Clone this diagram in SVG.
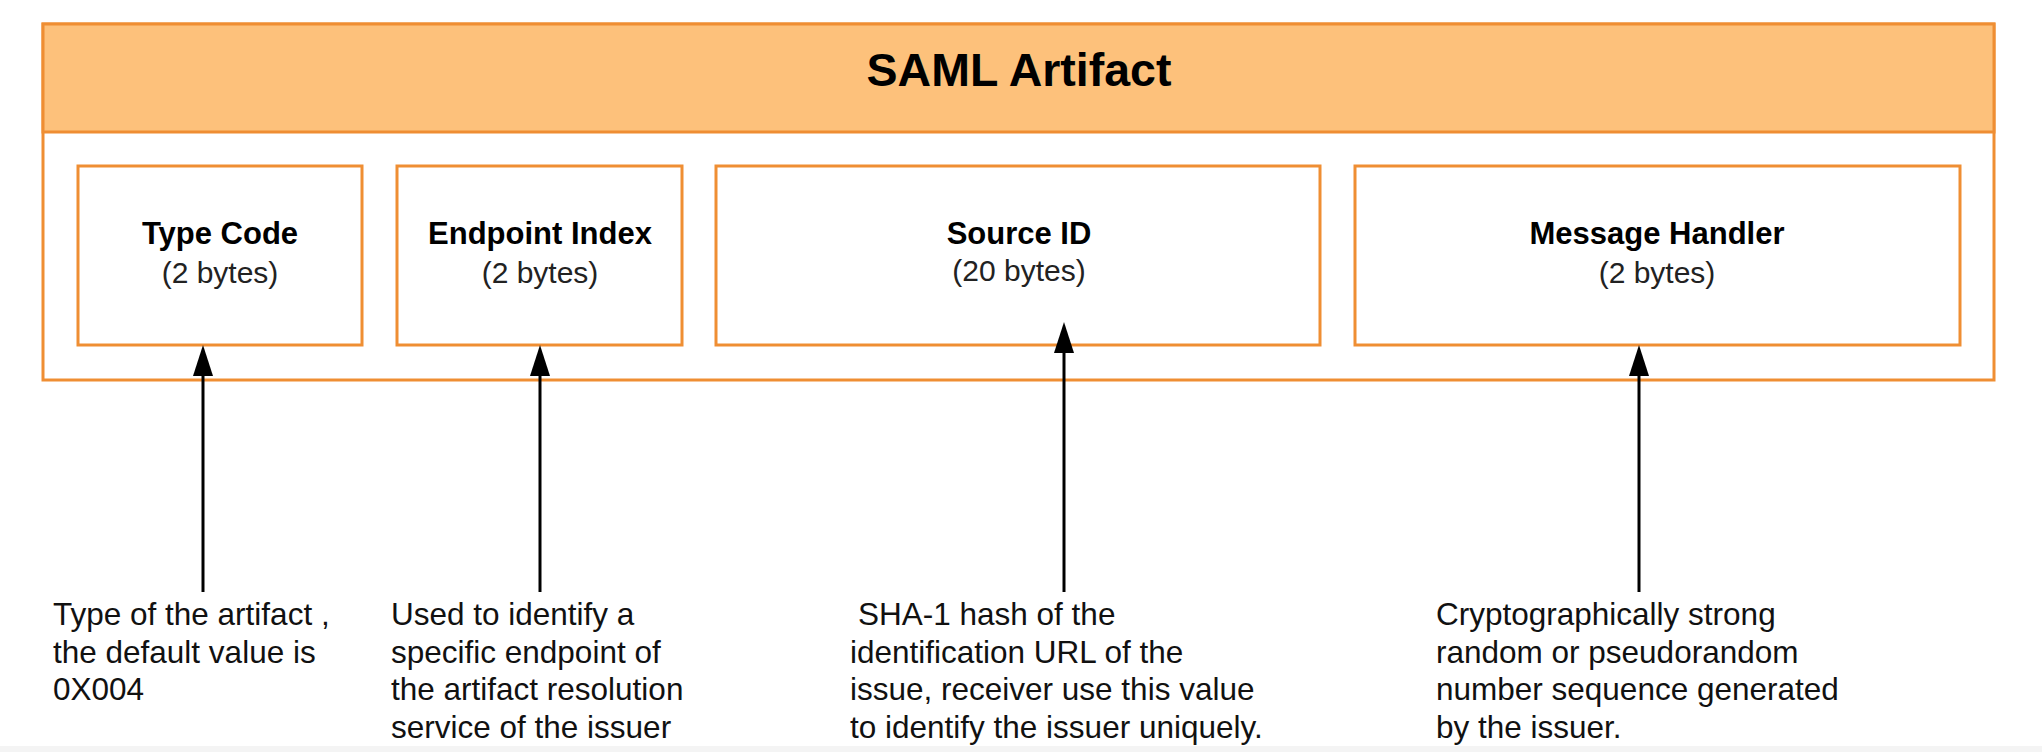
<svg xmlns="http://www.w3.org/2000/svg" width="2042" height="752" viewBox="0 0 2042 752">
<style>
.frame{fill:#FFFFFF;stroke:#EF8E33;stroke-width:3}
.head{fill:#FDC17B;stroke:#EF8E33;stroke-width:3}
.box{fill:#FFFFFF;stroke:#EF8E33;stroke-width:3}
.title{font-family:"Liberation Sans",Arial,sans-serif;font-weight:bold;font-size:46.5px;fill:#000;text-anchor:middle}
.lbl{font-family:"Liberation Sans",Arial,sans-serif;font-weight:bold;font-size:31px;fill:#000;text-anchor:middle}
.sub{font-family:"Liberation Sans",Arial,sans-serif;font-size:30px;fill:#222;text-anchor:middle}
.desc{font-family:"Liberation Sans",Arial,sans-serif;font-size:31.5px;fill:#111}
.conn{stroke:#000;stroke-width:3;fill:none}
</style>
<defs>
<marker id="arr" markerUnits="userSpaceOnUse" markerWidth="32" markerHeight="22" refX="0" refY="10" orient="auto">
<path d="M0,0 L31,10 L0,20 z" fill="#000"/>
</marker>
</defs>
<rect x="0" y="0" width="2042" height="752" fill="#FFFFFF"/>
<rect x="0" y="746" width="2042" height="6" fill="#F4F4F4"/>
<g id="saml-artifact">
<rect class="frame" x="43" y="24" width="1951" height="356"/>
<rect class="head" x="43" y="24" width="1951" height="108"/>
<text class="title" x="1019" y="86">SAML Artifact</text>
</g>
<g id="type-code">
<rect class="box" x="78" y="166" width="284" height="179"/>
<text class="lbl" x="220" y="244">Type Code</text>
<text class="sub" x="220" y="283">(2 bytes)</text>
</g>
<g id="endpoint-index">
<rect class="box" x="397" y="166" width="285" height="179"/>
<text class="lbl" x="540" y="244">Endpoint Index</text>
<text class="sub" x="540" y="283">(2 bytes)</text>
</g>
<g id="source-id">
<rect class="box" x="716" y="166" width="604" height="179"/>
<text class="lbl" x="1019" y="244">Source ID</text>
<text class="sub" x="1019" y="281">(20 bytes)</text>
</g>
<g id="message-handler">
<rect class="box" x="1355" y="166" width="605" height="179"/>
<text class="lbl" x="1657" y="244">Message Handler</text>
<text class="sub" x="1657" y="283">(2 bytes)</text>
</g>
<g id="connectors">
<path class="conn" d="M203,592 L203,376" marker-end="url(#arr)"/>
<path class="conn" d="M540,592 L540,376" marker-end="url(#arr)"/>
<path class="conn" d="M1064,592 L1064,353" marker-end="url(#arr)"/>
<path class="conn" d="M1639,592 L1639,376" marker-end="url(#arr)"/>
</g>
<g id="desc-type-code">
<text class="desc" x="53" y="625">Type of the artifact ,</text>
<text class="desc" x="53" y="663">the default value is</text>
<text class="desc" x="53" y="700">0X004</text>
</g>
<g id="desc-endpoint-index">
<text class="desc" x="391" y="625">Used to identify a</text>
<text class="desc" x="391" y="663">specific endpoint of</text>
<text class="desc" x="391" y="700">the artifact resolution</text>
<text class="desc" x="391" y="738">service of the issuer</text>
</g>
<g id="desc-source-id">
<text class="desc" x="858" y="625">SHA-1 hash of the</text>
<text class="desc" x="850" y="663">identification URL of the</text>
<text class="desc" x="850" y="700">issue, receiver use this value</text>
<text class="desc" x="850" y="738">to identify the issuer uniquely.</text>
</g>
<g id="desc-message-handler">
<text class="desc" x="1436" y="625">Cryptographically strong</text>
<text class="desc" x="1436" y="663">random or pseudorandom</text>
<text class="desc" x="1436" y="700">number sequence generated</text>
<text class="desc" x="1436" y="738">by the issuer.</text>
</g>
</svg>
